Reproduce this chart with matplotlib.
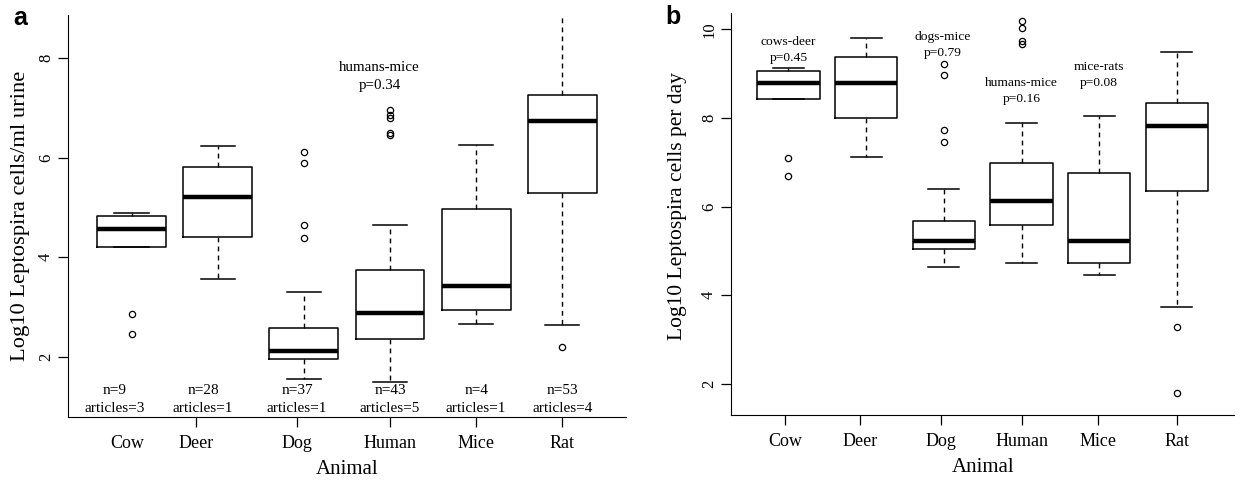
import matplotlib
matplotlib.use('Agg')
import matplotlib.pyplot as plt

plt.rcParams['font.family'] = 'Liberation Serif'

animals = ['Cow', 'Deer', 'Dog', 'Human', 'Mice', 'Rat']

# panel a: log10 Leptospira cells/ml urine
urine_whislo = [4.20, 3.57, 1.55, 1.50, 2.67, 2.64]
urine_q1 = [4.20, 4.41, 1.95, 2.35, 2.94, 5.29]
urine_med = [4.57, 5.21, 2.12, 2.89, 3.43, 6.74]
urine_q3 = [4.82, 5.81, 2.58, 3.75, 4.96, 7.25]
urine_whishi = [4.89, 6.23, 3.30, 4.64, 6.26, 8.90]
urine_fliers = [[2.86, 2.47], [], [6.11, 5.89, 4.64, 4.38],
                [6.95, 6.86, 6.80, 6.50, 6.46], [], [2.19]]
n_obs = [9, 28, 37, 43, 4, 53]
n_articles = [3, 1, 1, 5, 1, 4]

# panel b: log10 Leptospira cells per day
day_whislo = [8.43, 7.13, 4.63, 4.73, 4.46, 3.73]
day_q1 = [8.43, 7.99, 5.04, 5.58, 4.73, 6.36]
day_med = [8.80, 8.79, 5.22, 6.13, 5.23, 7.82]
day_q3 = [9.06, 9.37, 5.68, 6.98, 6.76, 8.33]
day_whishi = [9.12, 9.80, 6.39, 7.88, 8.05, 9.49]
day_fliers = [[7.09, 6.70], [], [9.21, 8.97, 7.73, 7.47],
              [10.19, 10.04, 9.74, 9.68], [], [3.28, 1.79]]

# pairwise comparisons (label, p, x, y)
urine_tests = [('humans-mice', 0.34, 3.88, 7.82)]
day_tests = [('cows-deer', 0.45, 1.0, 9.72),
             ('dogs-mice', 0.79, 2.99, 9.83),
             ('humans-mice', 0.16, 4.0, 8.78),
             ('mice-rats', 0.08, 4.99, 9.14)]

# where the category labels sit on the x axis
urine_label_x = [0.95, 1.75, 2.92, 4.0, 5.0, 6.0]
urine_n_x = [0.80, 1.83, 2.92, 4.0, 5.0, 6.0]
day_label_x = [0.96, 1.92, 2.96, 4.0, 4.98, 6.0]


def make_stats(lo, q1, med, q3, hi, fl):
    stats = []
    for i in range(len(lo)):
        stats.append({'whislo': lo[i], 'q1': q1[i], 'med': med[i],
                      'q3': q3[i], 'whishi': hi[i], 'fliers': fl[i]})
    return stats


def draw_box(ax, stats):
    ax.bxp(stats, positions=range(1, 7), widths=0.8, capwidths=0.4,
           boxprops=dict(color='black', linewidth=1.1),
           medianprops=dict(color='black', linewidth=3.2, solid_capstyle='butt'),
           whiskerprops=dict(color='black', linewidth=1.0, linestyle=(0, (3.5, 3))),
           capprops=dict(color='black', linewidth=1.1),
           flierprops=dict(marker='o', markerfacecolor='none', markeredgecolor='black',
                           markersize=4.5, markeredgewidth=0.9))


def style_axes(ax, ylim, yticks, label_x, ylabel, ylabel_pos, ylabel_size):
    ax.set_xlim(0.26, 6.74)
    ax.set_ylim(*ylim)
    ax.spines['top'].set_visible(False)
    ax.spines['right'].set_visible(False)
    ax.set_yticks(yticks)
    ax.set_yticklabels([str(t) for t in yticks], rotation=90, va='center', fontsize=12)
    ax.set_xticks(label_x)
    ax.set_xticklabels(animals, fontsize=13)
    ax.tick_params(axis='y', length=7, width=0.9, pad=3)
    ax.tick_params(axis='x', length=7, width=0.9, pad=6)
    ax.set_ylabel(ylabel, fontsize=ylabel_size)
    ax.yaxis.set_label_coords(*ylabel_pos)
    ax.set_xlabel('Animal', fontsize=15)
    ax.xaxis.set_label_coords(0.5, -0.107)


fig = plt.figure(figsize=(12.4, 4.84), dpi=100)
ax1 = fig.add_axes([0.0548, 0.138, 0.450, 0.8306])
ax2 = fig.add_axes([0.5895, 0.1426, 0.406, 0.8306])

draw_box(ax1, make_stats(urine_whislo, urine_q1, urine_med, urine_q3, urine_whishi, urine_fliers))
style_axes(ax1, (0.79, 8.86), [2, 4, 6, 8], urine_label_x,
           'Log10 Leptospira cells/ml urine', (-0.068, 0.502), 16.2)
ax1.xaxis.get_major_ticks()[0].tick1line.set_visible(False)

for i in range(len(animals)):
    ax1.text(urine_n_x[i], 1.33, 'n=%d' % n_obs[i], ha='center', va='center', fontsize=11)
    ax1.text(urine_n_x[i], 0.96, 'articles=%d' % n_articles[i], ha='center', va='center', fontsize=11)

for name, p, x, y in urine_tests:
    ax1.text(x, y, name, ha='center', va='center', fontsize=10.8)
    ax1.text(x, y - 0.37, 'p=%.2f' % p, ha='center', va='center', fontsize=10.8)

draw_box(ax2, make_stats(day_whislo, day_q1, day_med, day_q3, day_whishi, day_fliers))
style_axes(ax2, (1.30, 10.37), [2, 4, 6, 8, 10], day_label_x,
           'Log10 Leptospira cells per day', (-0.088, 0.52), 15.5)

for name, p, x, y in day_tests:
    ax2.text(x, y, name, ha='center', va='center', fontsize=9.7)
    ax2.text(x, y - 0.36, 'p=%.2f' % p, ha='center', va='center', fontsize=9.7)

fig.text(0.016, 0.963, 'a', fontsize=18, fontweight='bold', family='Liberation Sans',
         ha='center', va='center')
fig.text(0.543, 0.965, 'b', fontsize=18, fontweight='bold', family='Liberation Sans',
         ha='center', va='center')

fig.savefig('out.png', dpi=100)
